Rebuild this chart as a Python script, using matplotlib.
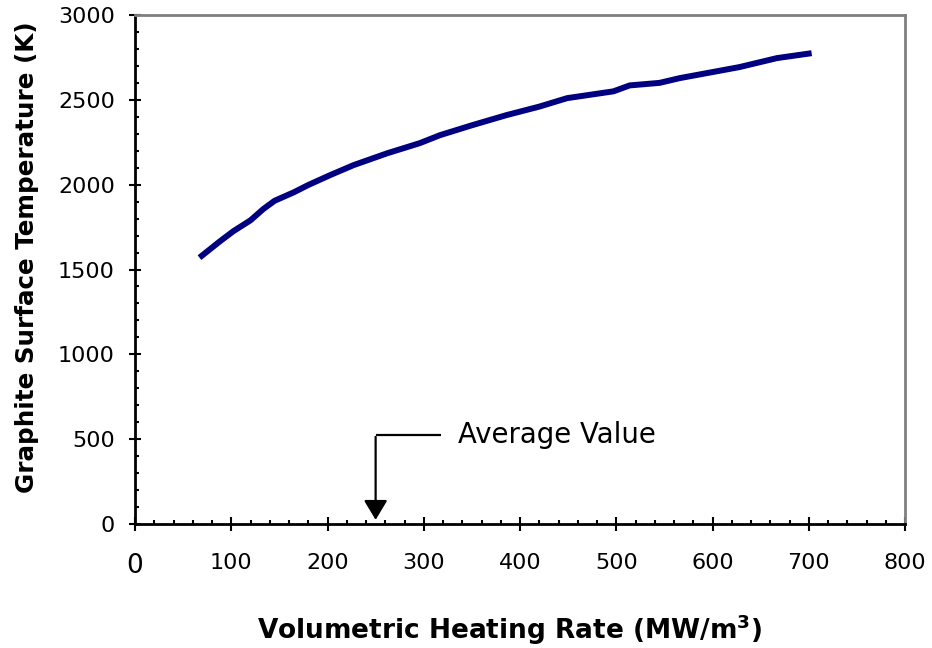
import matplotlib
matplotlib.use("Agg")
import matplotlib.pyplot as plt
from matplotlib.ticker import MultipleLocator

# Dados
heating_rate = [67, 88, 102, 120, 133, 145, 165, 180, 203, 227, 262, 296, 317,
                350, 386, 420, 449, 497, 514, 545, 566, 587, 628, 667, 703]
surface_temp = [1570, 1665, 1725, 1790, 1855, 1905, 1955, 1998, 2057, 2115, 2185,
                2245, 2292, 2350, 2410, 2460, 2510, 2550, 2585, 2600, 2628, 2650,
                2693, 2746, 2775]

x_ticks = [0, 100, 200, 300, 400, 500, 600, 700, 800]
y_ticks = [0, 500, 1000, 1500, 2000, 2500, 3000]

avg_value = 250        # posicao da seta "Average Value"
avg_label_y = 525

fig = plt.figure(figsize=(9.32, 6.48), dpi=100)
ax = fig.add_axes([135 / 932, 1 - 524 / 648, 770 / 932, 509 / 648])

ax.plot(heating_rate, surface_temp, color="#000080", lw=4.3, solid_capstyle="butt")

ax.set_xlim(0, 800)
ax.set_ylim(0, 3000)
ax.set_xticks(x_ticks)
ax.set_yticks(y_ticks)
ax.xaxis.set_minor_locator(MultipleLocator(20))
ax.yaxis.set_minor_locator(MultipleLocator(100))

ax.tick_params(axis="both", which="major", direction="inout", width=1.5,
               labelsize=16, colors="black")
ax.tick_params(axis="x", which="major", length=10, pad=16)
ax.tick_params(axis="y", which="major", length=9, pad=10)
ax.tick_params(axis="both", which="minor", direction="in", length=3, width=1.5)

ax.get_xticklabels()[0].set_fontsize(19)

for side in ["left", "bottom"]:
    ax.spines[side].set_color("black")
    ax.spines[side].set_linewidth(2)
for side in ["top", "right"]:
    ax.spines[side].set_color("#808080")
    ax.spines[side].set_linewidth(2)

ax.set_xlabel("Volumetric Heating Rate (MW/m$^\\mathbf{3}$)", fontsize=19,
              fontweight="bold", va="center")
ax.xaxis.set_label_coords(0.487, -0.208)
ax.set_ylabel("Graphite Surface Temperature (K)", fontsize=17.7,
              fontweight="bold", va="center")
ax.yaxis.set_label_coords(-0.140, 0.525)

# Seta "Average Value"
ax.plot([avg_value, avg_value + 68], [avg_label_y, avg_label_y], color="black",
        lw=1.6, solid_capstyle="butt")
ax.annotate("", xy=(avg_value, 8), xytext=(avg_value, avg_label_y + 5),
            arrowprops=dict(arrowstyle="-|>,head_length=0.6,head_width=0.36",
                            color="black", lw=1.6, mutation_scale=20))
ax.text(avg_value + 86, avg_label_y, "Average Value", fontsize=19.8,
        va="center", ha="left")

fig.savefig("out.png", dpi=100)
